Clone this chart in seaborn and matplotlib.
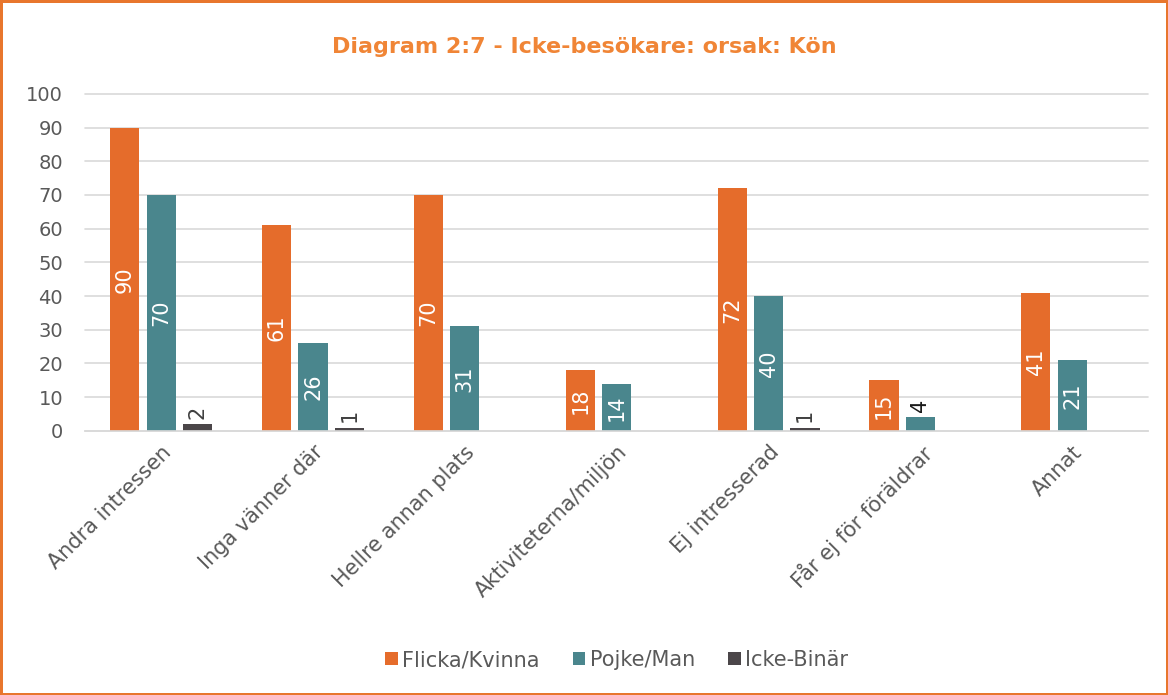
import pandas as pd
import numpy as np
import matplotlib.pyplot as plt
import seaborn as sns

# data
categories = ['Andra intressen', 'Inga vänner där', 'Hellre annan plats',
              'Aktiviteterna/miljön', 'Ej intresserad', 'Får ej för föräldrar', 'Annat']
groups = ['Flicka/Kvinna', 'Pojke/Man', 'Icke-Binär']
flicka = [90, 61, 70, 18, 72, 15, 41]
pojke = [70, 26, 31, 14, 40, 4, 21]
ickebinar = [2, 1, 0, 0, 1, 0, 0]

colors = ['#E56C2B', '#4A868D', '#4B4649']

df = pd.DataFrame({
    'kategori': categories * 3,
    'grupp': [groups[0]] * 7 + [groups[1]] * 7 + [groups[2]] * 7,
    'antal': flicka + pojke + ickebinar,
})

sns.set_style("white")
plt.rcParams['font.family'] = ['DejaVu Sans']

fig = plt.figure(figsize=(11.68, 6.95), dpi=100)
fig.patch.set_edgecolor('#E8762D')
fig.patch.set_linewidth(2.5)
ax = fig.add_axes([0.073, 0.380, 0.910, 0.485])

sns.barplot(data=df, x='kategori', y='antal', hue='grupp', order=categories,
            hue_order=groups, palette=colors, width=0.72, gap=0.2,
            saturation=1, linewidth=0, ax=ax, legend=True)

ax.set_ylim(0, 100)
ax.set_yticks(range(0, 101, 10))
ax.set_xlim(-0.5, len(categories) - 0.5)
ax.yaxis.grid(True, color='#D9D9D9', linewidth=1.2)
for gl in ax.get_ygridlines():
    gl.set_clip_on(False)
ax.set_axisbelow(True)
for s in ['top', 'right', 'left']:
    ax.spines[s].set_visible(False)
ax.spines['bottom'].set_color('#D9D9D9')
ax.spines['bottom'].set_linewidth(1.2)
ax.tick_params(axis='both', length=0, colors='#595959')
ax.tick_params(axis='y', labelsize=14, pad=16)
ax.set_xticks(range(len(categories)))
ax.set_xticklabels(categories, rotation=45, ha='right', rotation_mode='anchor',
                   fontsize=15)
ax.tick_params(axis='x', pad=8)
ax.set_xlabel('')
ax.set_ylabel('')

# value labels: inside for tall bars, above for small ones
for cont, vals in zip(ax.containers, [flicka, pojke, ickebinar]):
    inside = [f'{v}' if v >= 10 else '' for v in vals]
    outside = [f'{v}' if 0 < v < 10 else '' for v in vals]
    ax.bar_label(cont, labels=inside, label_type='center', rotation=90,
                 color='white', fontsize=15)
    ax.bar_label(cont, labels=outside, label_type='edge', rotation=90,
                 color='#1A1A1A' if cont is ax.containers[1] else '#404040',
                 fontsize=15, padding=4)

fig.text(0.5, 0.933, 'Diagram 2:7 - Icke-besökare: orsak: Kön', ha='center',
         va='center', fontsize=16, fontweight='bold', color='#F08536')

ax.legend(loc='center', bbox_to_anchor=(0.5, -0.68), ncol=3, frameon=False,
          fontsize=15, handlelength=0.6, handleheight=0.6, handletextpad=0.2,
          columnspacing=1.6, labelcolor='#595959')

plt.savefig('out.png', dpi=100, edgecolor=fig.get_edgecolor())
